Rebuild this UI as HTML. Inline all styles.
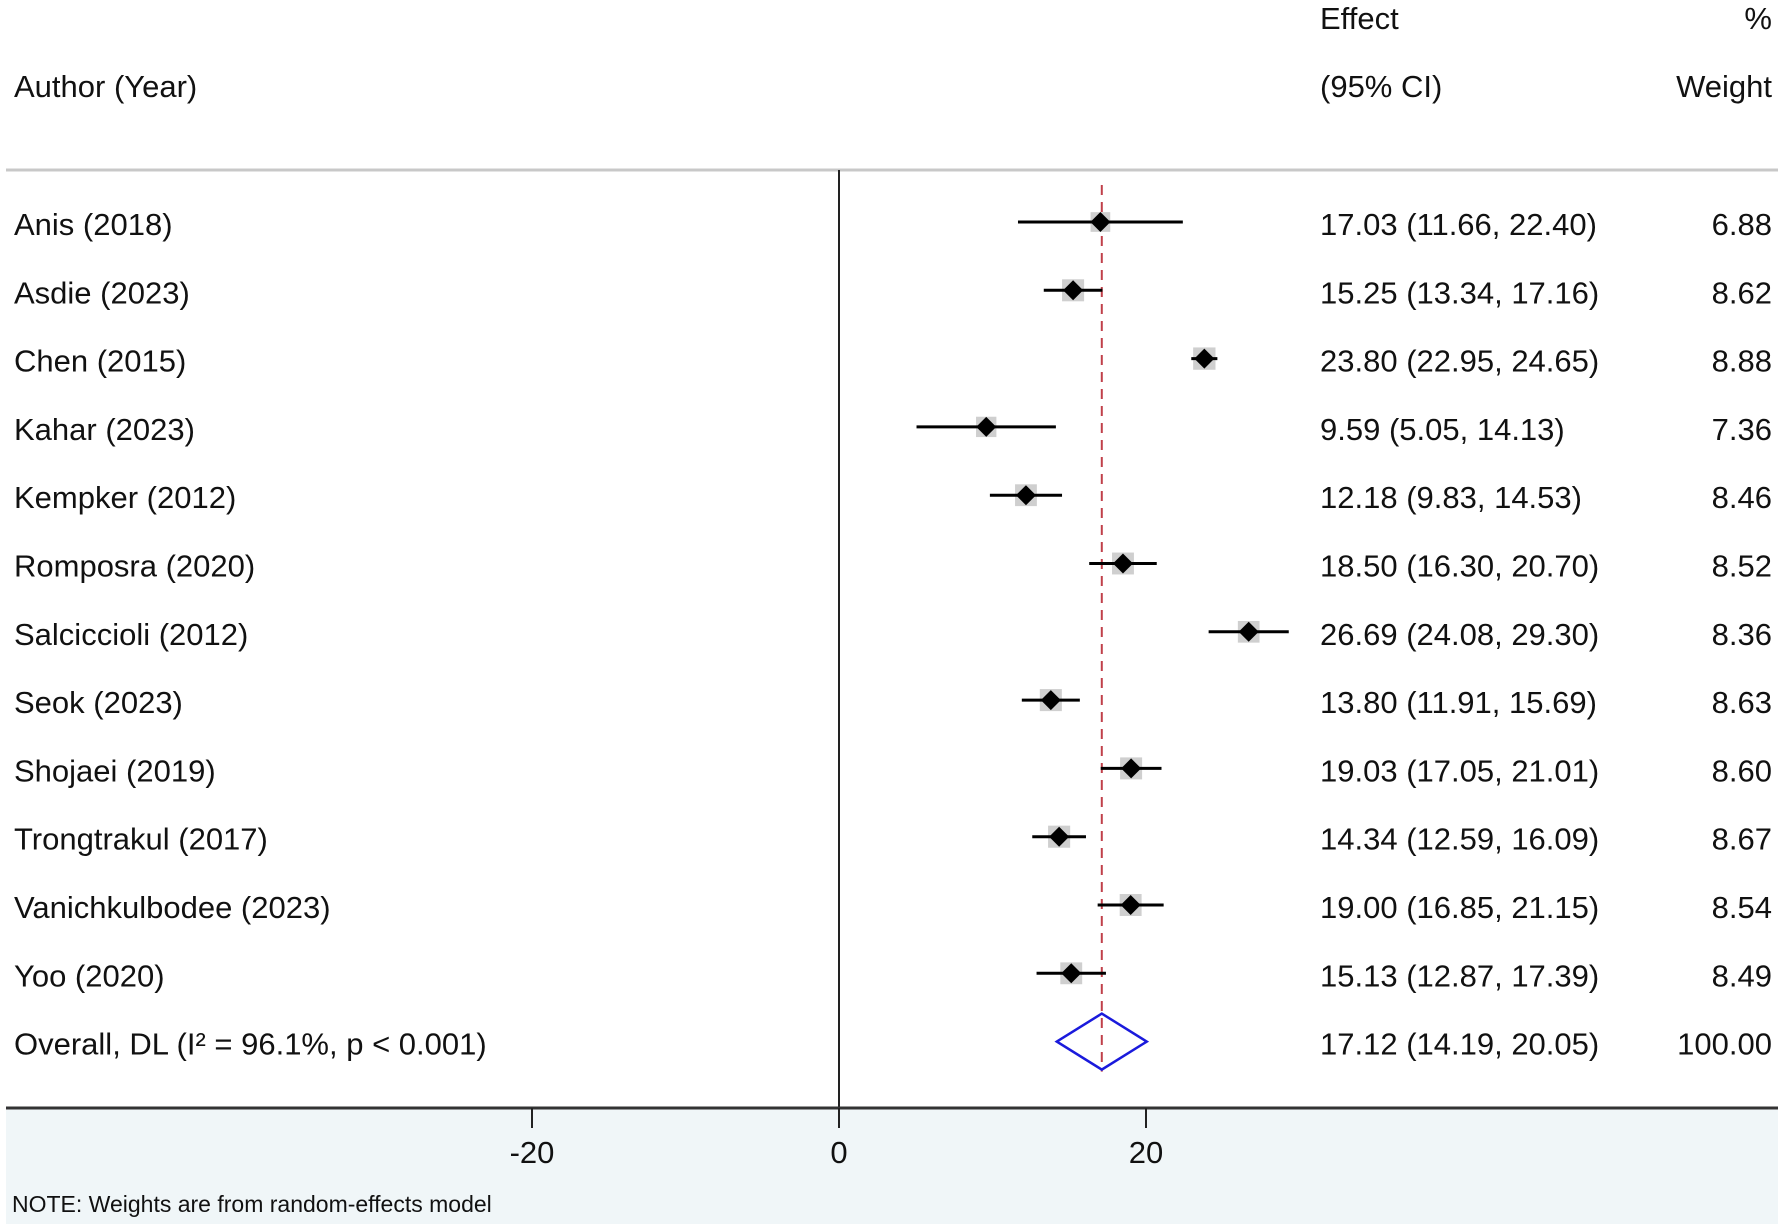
<!DOCTYPE html>
<html><head><meta charset="utf-8"><style>
html,body{margin:0;padding:0;background:#fff}
svg{display:block}
text{font-family:"Liberation Sans",Arial,sans-serif;font-size:31px;fill:#111}
</style></head><body>
<svg id="chart" width="1784" height="1224" viewBox="0 0 1784 1224">
<rect x="6" y="1107" width="1772" height="117" fill="#f0f6f8"/>
<text x="1320" y="29">Effect</text>
<text x="1772" y="29" text-anchor="end">%</text>
<text x="14" y="97">Author (Year)</text>
<text x="1320" y="97">(95% CI)</text>
<text x="1772" y="97" text-anchor="end">Weight</text>
<line x1="6" y1="170" x2="1778" y2="170" stroke="#c8c8c8" stroke-width="3"/>
<g id="rows"></g>
<line x1="6" y1="1108" x2="1778" y2="1108" stroke="#333" stroke-width="3"/>
<g id="axis"></g>
<text x="12" y="1212" style="font-size:23px">NOTE: Weights are from random-effects model</text>
</svg>
<script>
const authors=["Anis (2018)","Asdie (2023)","Chen (2015)","Kahar (2023)","Kempker (2012)","Romposra (2020)","Salciccioli (2012)","Seok (2023)","Shojaei (2019)","Trongtrakul (2017)","Vanichkulbodee (2023)","Yoo (2020)"];
const effects=[17.03,15.25,23.80,9.59,12.18,18.50,26.69,13.80,19.03,14.34,19.00,15.13];
const lower=[11.66,13.34,22.95,5.05,9.83,16.30,24.08,11.91,17.05,12.59,16.85,12.87];
const upper=[22.40,17.16,24.65,14.13,14.53,20.70,29.30,15.69,21.01,16.09,21.15,17.39];
const weights=[6.88,8.62,8.88,7.36,8.46,8.52,8.36,8.63,8.60,8.67,8.54,8.49];
const overall=[17.12,14.19,20.05];
const overallLabel="Overall, DL (I² = 96.1%, p < 0.001)";
const ticks=[-20,0,20];

const NS="http://www.w3.org/2000/svg";
const X=v=>839+v*15.35;
const Y=i=>222+i*68.3;
function mk(tag,attrs,parent,txt){const e=document.createElementNS(NS,tag);for(const k in attrs)e.setAttribute(k,attrs[k]);if(txt!==undefined)e.textContent=txt;parent.appendChild(e);return e;}
const rows=document.getElementById('rows');
const axis=document.getElementById('axis');
const n=authors.length;
const oy=Y(n);
let z=mk('line',{x1:X(0),y1:170,x2:X(0),y2:1108,stroke:'#222','stroke-width':2},rows);


let d=mk('line',{x1:X(overall[0]),y1:185,x2:X(overall[0]),y2:oy+30,stroke:'#c0404a','stroke-width':2,'stroke-dasharray':'10,7'},rows);


for(let i=0;i<n;i++){
  const y=Y(i);
  let t=mk('text',{x:14,y:y+13},rows,authors[i]);
  
  
  const s=Math.sqrt(weights[i]/8.6)*22;
  let sq=mk('rect',{x:X(effects[i])-s/2,y:y-s/2,width:s,height:s,fill:'#cfcfcf'},rows);
  
  
  let l=mk('line',{x1:X(lower[i]),y1:y,x2:X(upper[i]),y2:y,stroke:'#000','stroke-width':3},rows);
  
  
  const cx=X(effects[i]);
  let p=mk('polygon',{points:`${cx-10},${y} ${cx},${y-10} ${cx+10},${y} ${cx},${y+10}`,fill:'#000'},rows);
  
  
  let e=mk('text',{x:1320,y:y+13},rows,`${effects[i].toFixed(2)} (${lower[i].toFixed(2)}, ${upper[i].toFixed(2)})`);
  
  
  let w=mk('text',{x:1772,y:y+13,'text-anchor':'end'},rows,weights[i].toFixed(2));
  
  
}
let ol=mk('text',{x:14,y:oy+13},rows,overallLabel);


let od=mk('polygon',{points:`${X(overall[1])},${oy} ${X(overall[0])},${oy-28} ${X(overall[2])},${oy} ${X(overall[0])},${oy+28}`,fill:'none',stroke:'#1a1adc','stroke-width':2.5},rows);


let oe=mk('text',{x:1320,y:oy+13},rows,`${overall[0].toFixed(2)} (${overall[1].toFixed(2)}, ${overall[2].toFixed(2)})`);


let ow=mk('text',{x:1772,y:oy+13,'text-anchor':'end'},rows,'100.00');


ticks.forEach(v=>{
  let tl=mk('line',{x1:X(v),y1:1108,x2:X(v),y2:1128,stroke:'#222','stroke-width':2},axis);
  
  
  let tt=mk('text',{x:X(v),y:1163,'text-anchor':'middle'},axis,String(v));
  
  
});
</script>
</body></html>
